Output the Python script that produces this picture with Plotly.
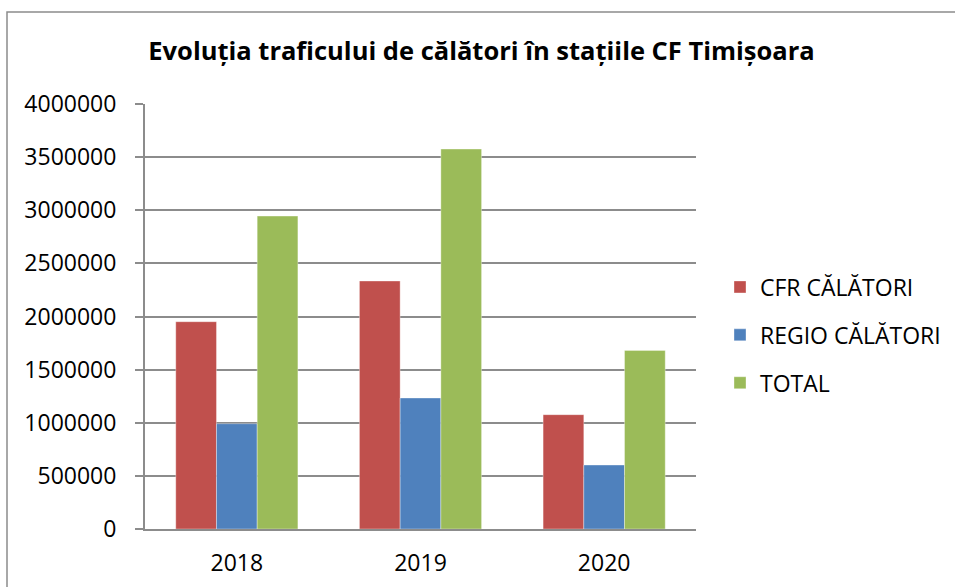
import plotly.graph_objects as go

years = ["2018", "2019", "2020"]
cfr_calatori = [1951000, 2334000, 1076000]
regio_calatori = [991000, 1233000, 602000]
total = [2945000, 3576000, 1681000]

series_names = ["CFR CĂLĂTORI", "REGIO CĂLĂTORI", "TOTAL"]
series_colors = ["#C0504D", "#4F81BD", "#9BBB59"]
y_ticks = [0, 500000, 1000000, 1500000, 2000000, 2500000, 3000000, 3500000, 4000000]
title_text = "Evoluția traficului de călători în stațiile CF Timișoara"

FONT = "Open Sans"

fig = go.Figure()
for name, vals, col in zip(series_names, [cfr_calatori, regio_calatori, total], series_colors):
    fig.add_trace(go.Bar(
        name=name, x=years, y=vals, legendgroup=name,
        marker=dict(color=col, line=dict(color="rgba(255,255,255,0.35)", width=1)),
    ))

W, H = 955, 587
ml, mr, mt, mb = 145, 259, 104, 58
pw = W - ml - mr
ph = H - mt - mb

def px2paper_x(x):
    return (x - ml) / pw

def px2paper_y(y):
    return (H - mb - y) / ph

fig.update_layout(
    width=W, height=H,
    margin=dict(l=ml, r=mr, t=mt, b=mb, pad=0, autoexpand=False),
    paper_bgcolor="white", plot_bgcolor="white",
    barmode="group", bargap=0.335, bargroupgap=0,
    font=dict(family=FONT, size=23, color="black"),
    title=dict(
        text="<b>" + title_text + "</b>",
        font=dict(family=FONT, size=25.5, color="black"),
        xref="container", x=481.5 / W, xanchor="center",
        yref="container", y=1 - 51 / H, yanchor="middle",
    ),
    legend=dict(
        xref="container", x=720 / W, xanchor="left",
        yref="container", y=1 - 335 / H, yanchor="middle",
        font=dict(family=FONT, size=23, color="black"),
        traceorder="grouped", tracegroupgap=15,
        bgcolor="rgba(0,0,0,0)",
    ),
    xaxis=dict(
        type="category", automargin=False,
        showline=True, linecolor="#8c8c8c", linewidth=2,
        ticks="", showgrid=False,
        tickfont=dict(family=FONT, size=23, color="black"),
        ticklabelstandoff=12,
    ),
    yaxis=dict(
        range=[0, 4000000], automargin=False,
        tickvals=y_ticks,
        ticktext=[str(v) for v in y_ticks],
        showline=True, linecolor="#8c8c8c", linewidth=2,
        ticks="outside", ticklen=8, tickcolor="#8c8c8c", tickwidth=1.5,
        showgrid=True, gridcolor="#8c8c8c", gridwidth=1.5,
        zeroline=False,
        tickfont=dict(family=FONT, size=23, color="black"),
        ticklabelstandoff=14,
    ),
    shapes=[dict(
        type="rect", xref="paper", yref="paper",
        x0=px2paper_x(7), x1=px2paper_x(975),
        y0=px2paper_y(600), y1=px2paper_y(12),
        line=dict(color="#8c8c8c", width=1.5),
        fillcolor="rgba(0,0,0,0)", layer="below",
    )],
)

fig.write_html(
    "out.html",
    config={"displayModeBar": False},
    post_script="document.body.style.margin='0';document.body.style.overflow='hidden';",
)
